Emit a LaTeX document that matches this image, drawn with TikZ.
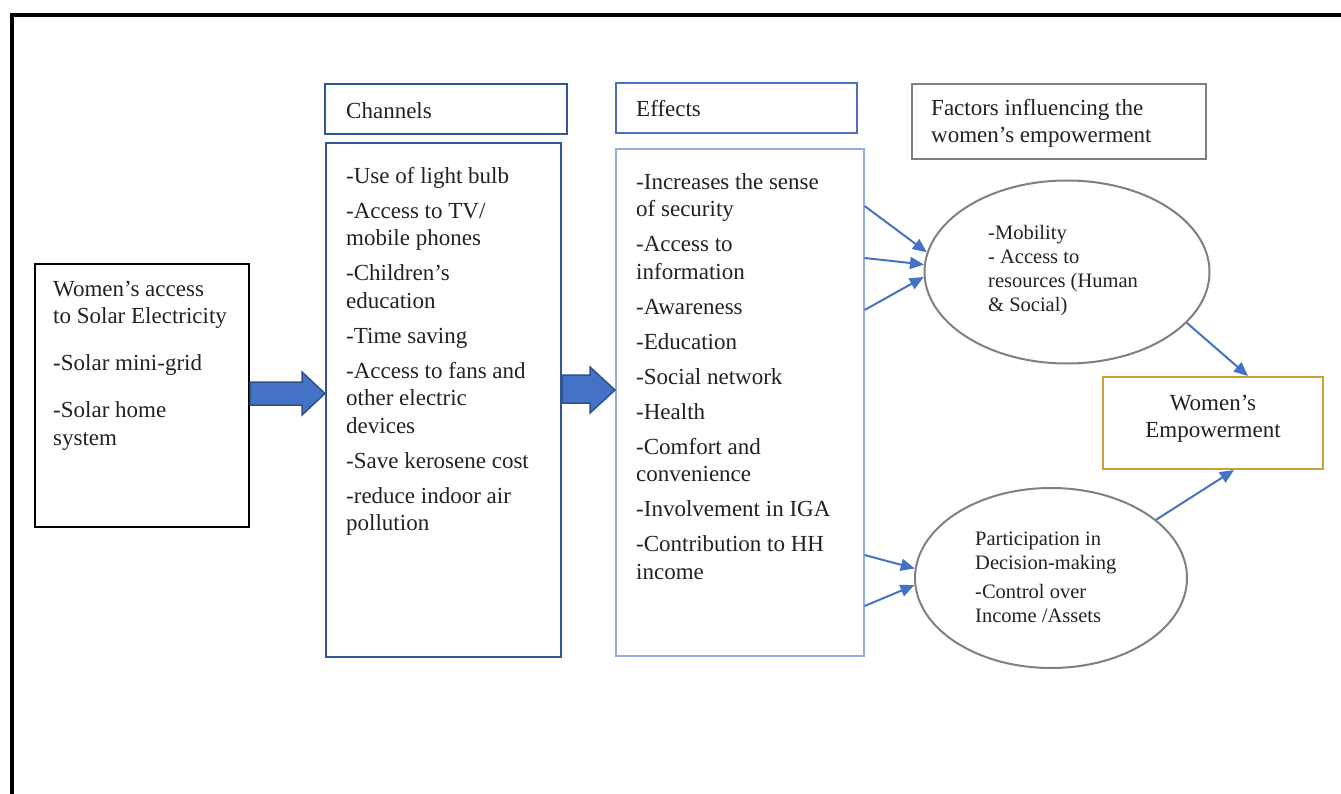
\documentclass[tikz,border=0pt]{standalone}
\usepackage{fontspec}
\setmainfont{Liberation Serif}
\usetikzlibrary{shapes.geometric,arrows.meta,calc}
\definecolor{txtc}{HTML}{222222}
\definecolor{chblue}{HTML}{2F5597}
\definecolor{efhead}{HTML}{4A6FBE}
\definecolor{eflight}{HTML}{92ACDC}
\definecolor{grayb}{HTML}{808080}
\definecolor{goldb}{HTML}{C9A037}
\definecolor{blockfill}{HTML}{4472C4}
\definecolor{blockdraw}{HTML}{2F528F}
\definecolor{arrowc}{HTML}{4472C4}
\begin{document}
\begin{tikzpicture}[x=1pt,y=-1pt,
  boxnode/.style={draw, line width=2pt, inner sep=0pt, anchor=north west},
  bigtext/.style={text=txtc, inner sep=0pt, align=left, font=\fontsize{23}{27.5}\selectfont},
  smalltext/.style={text=txtc, inner sep=0pt, align=left, font=\fontsize{20.5}{24}\selectfont},
  ellnode/.style={draw=grayb, line width=2pt, ellipse, inner sep=0pt},
  blockarrow/.style={fill=blockfill, draw=blockdraw, line width=1.5pt, line join=miter},
  thinarrow/.style={draw=arrowc, line width=2pt, -{Triangle[length=14pt,width=12pt]}}]
\useasboundingbox (0,0) rectangle (1341,794);
\fill[white] (0,0) rectangle (1341,794);
\draw[line width=4pt, black] (1341,15) -- (12,15) -- (12,794);

% boxes
\node[boxnode, draw=black, minimum width=214pt, minimum height=263pt] (src) at (34,263) {};
\node[boxnode, draw=chblue, minimum width=242pt, minimum height=50pt] (chh) at (324,83) {};
\node[boxnode, draw=chblue, minimum width=235pt, minimum height=514pt] (chb) at (325,142) {};
\node[boxnode, draw=efhead, minimum width=241pt, minimum height=50pt] (efh) at (615,82) {};
\node[boxnode, draw=eflight, line width=1.6pt, minimum width=248pt, minimum height=507pt] (efb) at (615,148) {};
\node[boxnode, draw=grayb, minimum width=294pt, minimum height=75pt] (fac) at (911,83) {};
\node[ellnode, minimum width=285pt, minimum height=183pt] (ell1) at (1067,272) {};
\node[ellnode, minimum width=272pt, minimum height=180pt] (ell2) at (1051,578) {};
\node[boxnode, draw=goldb, minimum width=220pt, minimum height=92pt] (we) at (1102,376) {};

% texts
\node[bigtext, anchor=north west] (srct) at (53,281) {Women’s access\\to Solar Electricity\\[19.5pt]-Solar mini-grid\\[19.5pt]-Solar home\\system};
\node[bigtext, anchor=base west] (chht) at (346,119) {Channels};
\node[bigtext, anchor=base west] (efht) at (636,117) {Effects};
\node[bigtext, anchor=west] (fact) at (931,123.5) {Factors influencing the\\women’s empowerment};
\node[bigtext, anchor=north west] (cht) at (346,167) {-Use of light bulb\\[7.5pt]-Access to TV/\\mobile phones\\[7.5pt]-Children’s\\education\\[7.5pt]-Time saving\\[7.5pt]-Access to fans and\\other electric\\devices\\[7.5pt]-Save kerosene cost\\[7.5pt]-reduce indoor air\\pollution};
\node[bigtext, anchor=north west] (eft) at (636,173) {-Increases the sense\\of security\\[7.5pt]-Access to\\information\\[7.5pt]-Awareness\\[7.5pt]-Education\\[7.5pt]-Social network\\[7.5pt]-Health\\[7.5pt]-Comfort and\\convenience\\[7.5pt]-Involvement in IGA\\[7.5pt]-Contribution to HH\\income};
\node[smalltext, anchor=north west] (ell1t) at (988,225.5) {-Mobility\\- Access to\\resources (Human\\\& Social)};
\node[smalltext, anchor=north west] (ell2t) at (975,532) {Participation in\\Decision-making\\[5pt]-Control over\\Income /Assets};
\node[bigtext, align=center] (wet) at ([yshift=4pt]we.center) {Women’s\\Empowerment};

% block arrows
\draw[blockarrow] (src.east |- 0,382) -- (302,382) -- (302,372) -- (chb.west |- 0,393.5) -- (302,415) -- (302,405) -- (src.east |- 0,405) -- cycle;
\draw[blockarrow] (chb.east |- 0,375) -- (590,375) -- (590,367) -- (efb.west |- 0,390) -- (590,413) -- (590,403) -- (chb.east |- 0,403) -- cycle;

% thin arrows
\draw[thinarrow] (efb.east |- 0,206) -- (ell1.172);
\draw[thinarrow] (efb.east |- 0,258) -- (ell1.177);
\draw[thinarrow] (efb.east |- 0,310) -- (ell1.182);
\draw[thinarrow] (efb.east |- 0,555) -- (ell2.176);
\draw[thinarrow] (efb.east |- 0,606) -- (ell2.183);
\draw[thinarrow] (ell1.-23) -- ([xshift=35pt]we.north);
\draw[thinarrow] (ell2.29) -- ([xshift=21pt]we.south);
\end{tikzpicture}
\end{document}
